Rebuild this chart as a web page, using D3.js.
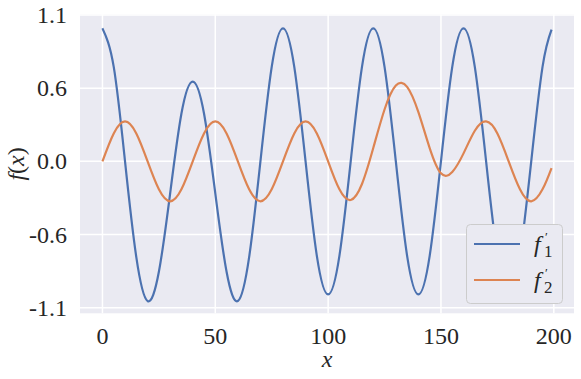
<!DOCTYPE html>
<html>
<head>
<meta charset="utf-8">
<script src="https://cdn.jsdelivr.net/npm/d3@7"></script>
</head>
<body style="margin:0">
<div id="plot-area"></div>
<script>
// Two derivative curves f1' and f2' on a seaborn darkgrid style axes

// x samples shared by both series
const xValues = [0, 5, 10, 15, 20, 25, 30, 35, 40, 45, 50, 55, 60, 65, 70, 75, 80, 85, 90, 95,
  100, 105, 110, 115, 120, 125, 130, 135, 140, 145, 150, 155, 160, 165, 170, 175, 180, 185, 190, 195, 199];

// f1' (blue)
const f1Values = [1.0, 0.71, 0.0, -0.72, -1.05, -0.83, -0.24, 0.36, 0.60, 0.36, -0.24, -0.83, -1.05, -0.72, 0.0, 0.71, 1.0, 0.71, 0.0, -0.71,
  -1.0, -0.71, 0.0, 0.71, 1.0, 0.71, 0.0, -0.71, -1.0, -0.71, 0.0, 0.71, 1.0, 0.71, 0.0, -0.71, -1.0, -0.71, 0.0, 0.71, 0.99];

// f2' (orange)
const f2Values = [0.0, 0.21, 0.30, 0.21, 0.0, -0.21, -0.30, -0.21, 0.0, 0.21, 0.30, 0.21, 0.0, -0.21, -0.30, -0.21, 0.0, 0.21, 0.30, 0.21,
  0.0, -0.21, -0.29, -0.17, 0.10, 0.39, 0.57, 0.56, 0.37, 0.10, -0.09, -0.08, 0.06, 0.23, 0.30, 0.21, 0.0, -0.21, -0.30, -0.21, -0.05];

// Tick positions and their printed labels
const xTicks = [0, 50, 100, 150, 200];
const yTicks = [-1.1, -0.55, 0, 0.55, 1.1];
const yTickLabels = ["-1.1", "-0.6", "0.0", "0.6", "1.1"];

const seriesNames = ["1", "2"];
const seriesColors = ["#4c72b0", "#dd8452"];

const fontName = "'Times New Roman'";

const svg = d3.select("#plot-area").
append("svg").
attr("width", 581).
attr("height", 379);

renderPlot(svg);

function renderPlot(svg) {
  const pL = 80, pR = 574, pT = 14.5, pB = 313.3; // plot box edges

  const xScale = d3.scaleLinear().
  domain([-9.95, 208.95]).
  range([pL, pR]);

  const yScale = d3.scaleLinear().
  domain([-1.142, 1.104]).
  range([pB, pT]);

  // Background
  svg.append("rect").
  attr("x", pL).
  attr("y", pT).
  attr("width", pR - pL).
  attr("height", pB - pT).
  attr("fill", "#eaeaf2");

  // Grid lines
  svg.append("g").
  selectAll("line").
  data(xTicks).
  enter().
  append("line").
  attr("x1", d => xScale(d)).
  attr("x2", d => xScale(d)).
  attr("y1", pT).
  attr("y2", pB).
  attr("stroke", "white").
  attr("stroke-width", 1.5);

  svg.append("g").
  selectAll("line").
  data(yTicks).
  enter().
  append("line").
  attr("x1", pL).
  attr("x2", pR).
  attr("y1", d => yScale(d)).
  attr("y2", d => yScale(d)).
  attr("stroke", "white").
  attr("stroke-width", 1.5);

  // Curves
  const series = [f1Values, f2Values];
  const line = d3.line().
  x((d, i) => xScale(xValues[i])).
  y(d => yScale(d)).
  curve(d3.curveNatural);

  svg.selectAll(".curve").
  data(series).
  enter().
  append("path").
  attr("class", "curve").
  attr("d", d => line(d)).
  attr("fill", "none").
  attr("stroke", (d, i) => seriesColors[i]).
  attr("stroke-width", 2.2).
  attr("stroke-linejoin", "round");

  // Tick labels: seaborn hides tick marks, so only the scales place the text
  svg.append("g").
  selectAll("text").
  data(xTicks).
  enter().
  append("text").
  attr("x", d => xScale(d)).
  attr("y", pB + 31).
  attr("text-anchor", "middle").
  attr("font-family", fontName).
  attr("font-size", 24).
  attr("fill", "#262626").
  text(d => d3.format("d")(d));

  svg.append("g").
  selectAll("text").
  data(yTicks).
  enter().
  append("text").
  attr("x", pL - 13).
  attr("y", d => yScale(d) + 8).
  attr("text-anchor", "end").
  attr("font-family", fontName).
  attr("font-size", 24).
  attr("fill", "#262626").
  text((d, i) => yTickLabels[i]);

  // Axis labels
  svg.append("text").
  attr("x", (pL + pR) / 2).
  attr("y", 367).
  attr("text-anchor", "middle").
  attr("font-family", fontName).
  attr("font-size", 24).
  attr("font-style", "italic").
  attr("fill", "#262626").
  text("x");

  const yLabel = svg.append("text").
  attr("transform", `translate(24 ${(pT + pB) / 2}) rotate(-90)`).
  attr("text-anchor", "middle").
  attr("font-family", fontName).
  attr("font-size", 24).
  attr("fill", "#262626");
  yLabel.append("tspan").attr("font-style", "italic").text("f");
  yLabel.append("tspan").text("(");
  yLabel.append("tspan").attr("font-style", "italic").text("x");
  yLabel.append("tspan").text(")");

  // Legend
  const legend = svg.append("g").
  attr("transform", "translate(466 224)");

  legend.append("rect").
  attr("x", 0.5).
  attr("y", 0.5).
  attr("width", 96).
  attr("height", 79).
  attr("rx", 4).
  attr("fill", "#eaeaf2").
  attr("stroke", "#cccccc").
  attr("stroke-width", 1);

  legend.selectAll(".key").
  data(seriesNames).
  enter().
  append("line").
  attr("class", "key").
  attr("x1", 8).
  attr("x2", 54).
  attr("y1", (d, i) => 20 + 36 * i).
  attr("y2", (d, i) => 20 + 36 * i).
  attr("stroke", (d, i) => seriesColors[i]).
  attr("stroke-width", 2.2);

  const labels = legend.selectAll(".lbl").
  data(seriesNames).
  enter().
  append("g").
  attr("class", "lbl").
  attr("transform", (d, i) => `translate(68 ${28 + 36 * i})`);

  labels.append("text").
  attr("font-family", fontName).
  attr("font-size", 24).
  attr("font-style", "italic").
  attr("fill", "#262626").
  text("f");

  labels.append("text").
  attr("x", 11).
  attr("y", -11).
  attr("font-family", fontName).
  attr("font-size", 13).
  attr("fill", "#262626").
  text("\u2032");

  labels.append("text").
  attr("x", 10).
  attr("y", 5).
  attr("font-family", fontName).
  attr("font-size", 17).
  attr("fill", "#262626").
  text(d => d);

  // END renderPlot()
}
</script>
</body>
</html>
